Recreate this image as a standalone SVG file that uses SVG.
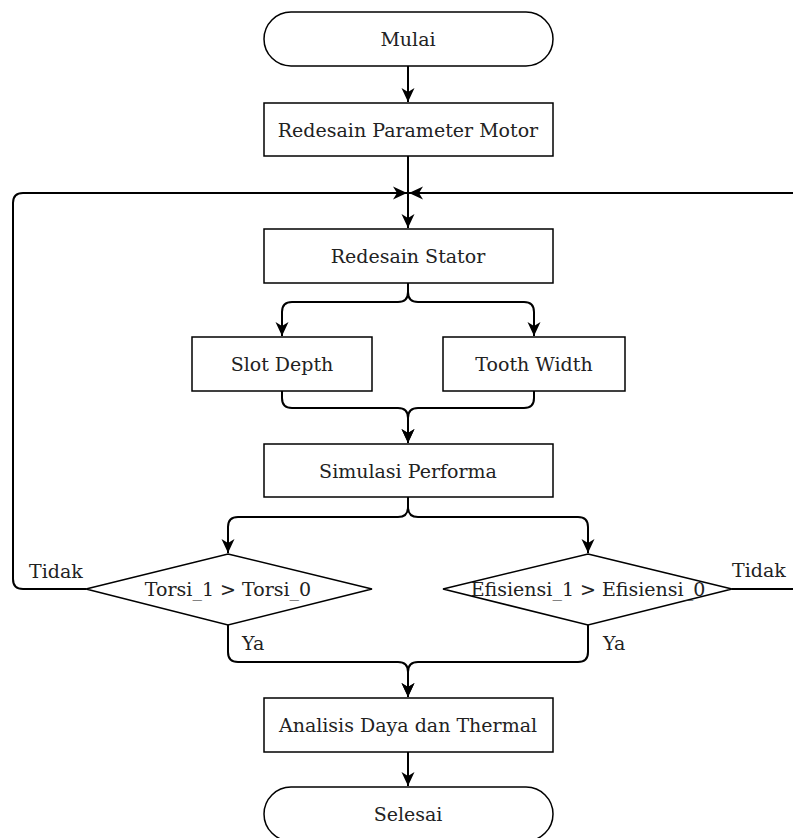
<svg xmlns="http://www.w3.org/2000/svg" width="793" height="838" viewBox="0 0 793 838">
<style>
.shape{fill:#fff;stroke:#000;stroke-width:1.5}
.lbl{font-family:"DejaVu Serif","Liberation Serif",serif;font-size:19px;fill:#222;text-anchor:middle}
.side{font-family:"DejaVu Serif","Liberation Serif",serif;font-size:19px;fill:#222}
.edge{fill:none;stroke:#000;stroke-width:2}
</style>
<defs>
<marker id="arr" markerUnits="userSpaceOnUse" markerWidth="16" markerHeight="16" viewBox="0 0 16 16" refX="14" refY="8" orient="auto">
<path d="M0,1.5 L14,8 L0,14.5 L4,8 z" fill="#000"/>
</marker>
</defs>
<g id="connectors">
<path class="edge" d="M408,66 V102" marker-end="url(#arr)"/>
<path class="edge" d="M408,156 V228" marker-end="url(#arr)"/>
<path class="edge" d="M86,589 H23 Q13,589 13,579 V203 Q13,193 23,193 H407" marker-end="url(#arr)"/>
<path class="edge" d="M732,589 H800 V193 H409" marker-end="url(#arr)"/>
<path class="edge" d="M408,283 V292 Q408,302 398,302 H292 Q282,302 282,312 V336" marker-end="url(#arr)"/>
<path class="edge" d="M408,283 V292 Q408,302 418,302 H524 Q534,302 534,312 V336" marker-end="url(#arr)"/>
<path class="edge" d="M282,391 V398 Q282,408 292,408 H398 Q408,408 408,418 V443" marker-end="url(#arr)"/>
<path class="edge" d="M534,391 V398 Q534,408 524,408 H418 Q408,408 408,418 V443" marker-end="url(#arr)"/>
<path class="edge" d="M408,497 V507 Q408,517 398,517 H238 Q228,517 228,527 V553" marker-end="url(#arr)"/>
<path class="edge" d="M408,497 V507 Q408,517 418,517 H578 Q588,517 588,527 V553" marker-end="url(#arr)"/>
<path class="edge" d="M228,625 V652 Q228,662 238,662 H398 Q408,662 408,672 V697" marker-end="url(#arr)"/>
<path class="edge" d="M588,625 V652 Q588,662 578,662 H418 Q408,662 408,672 V697" marker-end="url(#arr)"/>
<path class="edge" d="M408,752 V786" marker-end="url(#arr)"/>
<text class="side" x="29" y="578">Tidak</text>
<text class="side" x="732" y="577">Tidak</text>
<text class="side" x="242" y="650">Ya</text>
<text class="side" x="603" y="650">Ya</text>
</g>
<g id="mulai">
<rect class="shape" x="264" y="12" width="289" height="54" rx="27" ry="27"/>
<text class="lbl" x="408" y="46">Mulai</text>
</g>
<g id="redesain-parameter">
<rect class="shape" x="264" y="103" width="289" height="53"/>
<text class="lbl" x="408" y="136.5">Redesain Parameter Motor</text>
</g>
<g id="redesain-stator">
<rect class="shape" x="264" y="229" width="289" height="54"/>
<text class="lbl" x="408" y="263">Redesain Stator</text>
</g>
<g id="slot-depth">
<rect class="shape" x="192" y="337" width="180" height="54"/>
<text class="lbl" x="282" y="371">Slot Depth</text>
</g>
<g id="tooth-width">
<rect class="shape" x="443" y="337" width="182" height="54"/>
<text class="lbl" x="534" y="371">Tooth Width</text>
</g>
<g id="simulasi">
<rect class="shape" x="264" y="444" width="289" height="53"/>
<text class="lbl" x="408" y="477.5">Simulasi Performa</text>
</g>
<g id="torsi">
<polygon class="shape" points="228,554 372,589 228,625 86,589"/>
<text class="lbl" x="228" y="596">Torsi_1 &gt; Torsi_0</text>
</g>
<g id="efisiensi">
<polygon class="shape" points="588,554 732,589 588,625 443,589"/>
<text class="lbl" x="588" y="596">Efisiensi_1 &gt; Efisiensi_0</text>
</g>
<g id="analisis">
<rect class="shape" x="264" y="698" width="289" height="54"/>
<text class="lbl" x="408" y="732">Analisis Daya dan Thermal</text>
</g>
<g id="selesai">
<rect class="shape" x="264" y="787" width="289" height="54" rx="27" ry="27"/>
<text class="lbl" x="408" y="821">Selesai</text>
</g>
</svg>
